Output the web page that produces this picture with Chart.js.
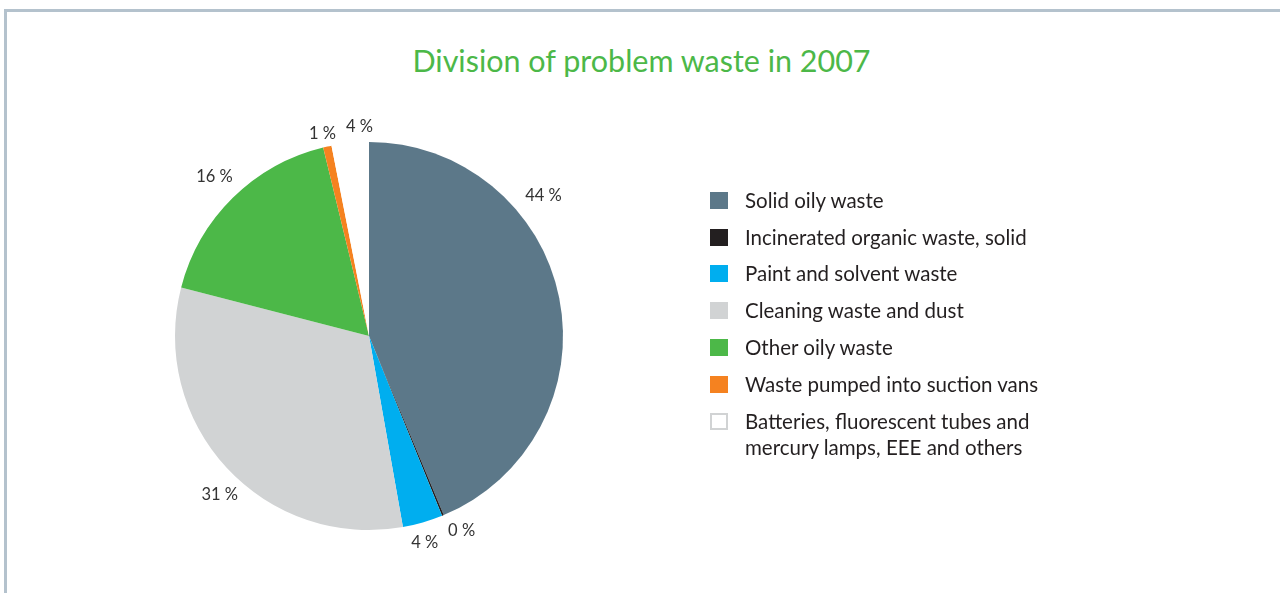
<!DOCTYPE html>
<html>
<head>
<meta charset="utf-8">
<script src="https://cdn.jsdelivr.net/npm/chart.js@4"></script>
<style>
  html, body { margin:0; padding:0; background:#fff; }
  body { width:1280px; height:593px; position:relative; overflow:hidden; font-family: Lato, "Open Sans", sans-serif; }
  #frame { position:absolute; left:4px; top:9px; right:0; bottom:0; border-top:3px solid #b4c2cd; border-left:3px solid #b4c2cd; }
  #title { position:absolute; left:0; width:1283px; top:40px; text-align:center; color:#4cb848; font-size:30.5px; line-height:40px; }
  #chartBox { position:absolute; left:0; top:0; width:1280px; height:593px; }
  #legend { position:absolute; left:710px; top:0; }
  .row { position:absolute; left:0; white-space:nowrap; }
  .sw { position:absolute; left:0; width:18px; height:17px; box-sizing:border-box; }
  .tx { position:absolute; left:35px; font-size:20.5px; line-height:26px; color:#231f20; }
</style>
</head>
<body>
<div id="frame"></div>
<div id="title"></div>
<div id="chartBox"><canvas id="c" width="1280" height="593"></canvas></div>
<div id="legend"></div>
<script>
// ---- data ----
const titleText = "Division of problem waste in 2007";
const categories = [
  "Solid oily waste",
  "Incinerated organic waste, solid",
  "Paint and solvent waste",
  "Cleaning waste and dust",
  "Other oily waste",
  "Waste pumped into suction vans",
  "Batteries, fluorescent tubes and\nmercury lamps, EEE and others"
];
const shares = [43.75, 0.15, 3.35, 31.85, 17.2, 0.7, 3.1];
const shownLabels = ["44 %", "0 %", "4 %", "31 %", "16 %", "1 %", "4 %"];
const colors = ["#5c7889", "#231f20", "#00aeef", "#d1d3d4", "#4cb848", "#f58220", "#ffffff"];

// ---- label placement styling (degrees nudge along the ring, radius) ----
const labelNudgeDeg = [-27.5, -3, 1, -4, 0.5, -0.5, 3];
const labelRadius = [224, 216, 214, 218, 222, 208, 210];

document.getElementById('title').textContent = titleText;

// legend
const legend = document.getElementById('legend');
const rowCenters = [200, 237, 273, 310, 347, 384, 421];
categories.forEach((name, i) => {
  const row = document.createElement('div');
  row.className = 'row';
  row.style.top = (rowCenters[i] - 13) + 'px';
  const sw = document.createElement('div');
  sw.className = 'sw';
  sw.style.top = '5px';
  sw.style.background = colors[i];
  if (colors[i].toLowerCase() === '#ffffff') sw.style.border = '2px solid #d1d3d4';
  const tx = document.createElement('div');
  tx.className = 'tx';
  tx.style.top = '0px';
  tx.innerHTML = name.split('\n').map(s => s.replace(/&/g,'&amp;')).join('<br>');
  row.appendChild(sw); row.appendChild(tx);
  legend.appendChild(row);
});

const labelPlugin = {
  id: 'sliceLabels',
  afterDatasetsDraw(chart) {
    const ctx = chart.ctx;
    const meta = chart.getDatasetMeta(0);
    ctx.save();
    ctx.font = '16.5px Lato, "Open Sans", sans-serif';
    ctx.fillStyle = '#333333';
    ctx.textAlign = 'center';
    ctx.textBaseline = 'middle';
    meta.data.forEach((arc, i) => {
      const p = arc.getProps(['x','y','startAngle','endAngle'], true);
      const mid = (p.startAngle + p.endAngle) / 2 + labelNudgeDeg[i] * Math.PI / 180;
      const r = labelRadius[i];
      ctx.fillText(shownLabels[i], p.x + r * Math.cos(mid), p.y + r * Math.sin(mid));
    });
    ctx.restore();
  }
};

new Chart(document.getElementById('c'), {
  type: 'pie',
  data: {
    labels: categories,
    datasets: [{
      data: shares,
      backgroundColor: colors,
      borderWidth: 0,
      hoverOffset: 0,
      offset: 0
    }]
  },
  options: {
    responsive: false,
    animation: false,
    layout: { padding: { left: 175, top: 142, right: 717, bottom: 63 } },
    plugins: {
      legend: { display: false },
      title: { display: false },
      tooltip: { enabled: false }
    }
  },
  plugins: [labelPlugin]
});
</script>
</body>
</html>
